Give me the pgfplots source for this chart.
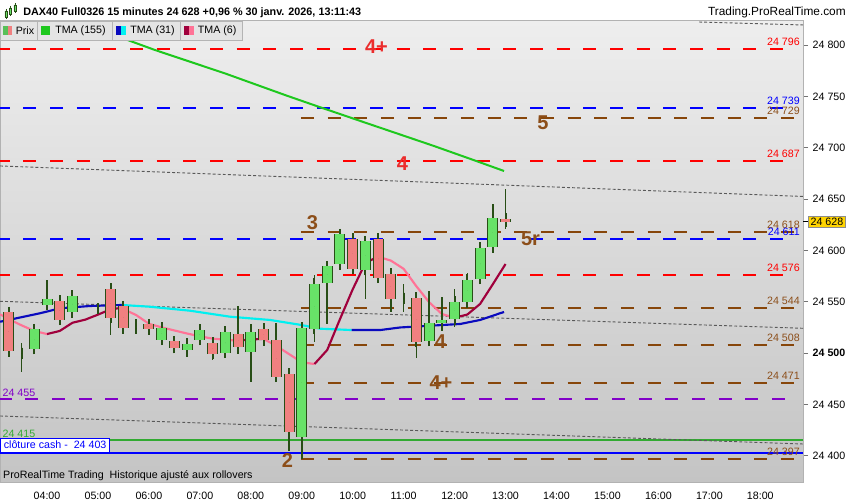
\documentclass[border=0pt]{standalone}
\usepackage{pgfplots}
\pgfplotsset{compat=1.18}
\usepackage{pgfplotstable}
\usepackage{fontspec}
\setmainfont{Liberation Sans}

\definecolor{bgtop}{RGB}{238,238,238}
\definecolor{bgbot}{RGB}{196,196,196}
\definecolor{upc}{RGB}{104,226,104}
\definecolor{dnc}{RGB}{240,128,128}
\definecolor{wick}{RGB}{40,78,22}
\definecolor{ma155}{RGB}{30,200,30}
\definecolor{ma31a}{RGB}{10,10,190}
\definecolor{ma31b}{RGB}{0,240,240}
\definecolor{ma6a}{RGB}{160,0,60}
\definecolor{ma6b}{RGB}{255,115,150}
\definecolor{lvred}{RGB}{255,0,0}
\definecolor{lvblue}{RGB}{0,0,255}
\definecolor{lvbrown}{RGB}{135,70,10}
\definecolor{lvpurple}{RGB}{130,0,200}
\definecolor{lvgreen}{RGB}{50,170,50}
\definecolor{lblred}{RGB}{235,45,45}
\definecolor{lblbrown}{RGB}{140,78,25}
\definecolor{legbg}{RGB}{228,228,228}
\definecolor{legbd}{RGB}{180,180,180}
\definecolor{gold}{RGB}{255,212,0}

\newcommand{\tf}{\fontsize{8}{9.6}\selectfont}
\newcommand{\bigf}{\fontsize{15}{18}\selectfont\bfseries}

% 15 minute candles: time (hours), open, high, low, close
\pgfplotstableread{
t o h l c
3.25 24539.6 24539.6 24501.6 24501.6
3.5 24500 24510 24482 24500
3.75 24504 24523 24502 24523
4.0 24547 24571 24547 24553
4.25 24551 24551 24531 24532.5
4.5 24539.5 24557 24539.5 24556
5.0 24543 24543 24543 24543
5.25 24562.6 24563 24518 24534.4
5.5 24545.5 24546 24524 24524
5.75 24524.3 24533 24521 24524.3
6.0 24528 24529 24523 24523
6.25 24513 24528.6 24513 24524.8
6.5 24511.3 24517 24505 24505
6.75 24503.2 24512 24496 24509
7.0 24513 24522.7 24513 24522.7
7.25 24510 24510 24492.8 24499.3
7.5 24500.3 24520.8 24497 24520.8
7.75 24518.8 24545.4 24499.3 24505.8
8.0 24501.3 24528.6 24471.7 24520.8
8.25 24523.7 24523.7 24507.4 24512.3
8.5 24513 24529.6 24472.7 24477
8.75 24479.8 24479.8 24405 24423
9.0 24418 24524.7 24397 24524.7
9.25 24523.7 24576 24510.6 24567.5
9.5 24568 24584.4 24528.6 24584.4
9.75 24586.6 24615.6 24581.5 24615.6
10.0 24611.4 24615.6 24582.2 24582.2
10.25 24581 24611 24552.2 24608.8
10.5 24611.4 24613 24569 24573.4
10.75 24577.3 24577.3 24539.6 24553
11.0 24553.6 24567.5 24540 24553.6
11.25 24554 24556 24495.4 24511
11.5 24512 24560 24512 24529
11.75 24529.6 24555 24521.3 24532.5
12.0 24533 24562.6 24525 24550
12.25 24549.6 24578.4 24548 24571.4
12.5 24572.4 24604.6 24567.5 24602.6
12.75 24603.2 24644.8 24598.3 24631.9
13.0 24631 24659.5 24620.5 24628
}\candles

\pgfplotsset{
  lvl/.style={line width=1.6pt, dash pattern=on 9.75pt off 10.25pt},
  chan/.style={line width=0.7pt, black!65, dash pattern=on 2.2pt off 1.6pt},
  nomark/.style={only marks, mark=*, mark size=0pt, mark options={draw=none, fill=none}},
}
\tikzset{lvlab/.style={anchor=south east, inner sep=0pt, font=\tf, yshift=2.2pt}}

\begin{document}
\begin{tikzpicture}
\path[use as bounding box, fill=white] (0,0) rectangle (637.5pt,375pt);
\begin{axis}[
  at={(0pt,13.5pt)}, anchor=south west,
  scale only axis, width=602.25pt, height=346.5pt,
  xmin=3.0775, xmax=18.838, ymin=24374.4, ymax=24824.35,
  clip=false,
  axis background/.style={shade, top color=bgtop, bottom color=bgbot},
  axis line style={draw=black!30},
  xtick={4,5,...,18},
  xticklabels={04:00,05:00,06:00,07:00,08:00,09:00,10:00,11:00,12:00,13:00,14:00,15:00,16:00,17:00,18:00},
  ytick={24400,24450,24500,24550,24600,24650,24700,24750,24800},
  yticklabels={24 400,24 450,\textbf{24 500},24 550,24 600,24 650,24 700,24 750,24 800},
  xtick pos=bottom, ytick pos=right, yticklabel pos=right,
  tick align=outside, major tick length=3.75pt,
  tick style={black!55, thin},
  xtick style={draw=none},
  tick label style={font=\tf, text=black},
  /pgf/number format/assume math mode=true,
]

% horizontal levels
\addplot[lvl, lvred, dash phase=2.5pt] coordinates {(3.0775,24796) (18.642,24796)};
\addplot[lvl, lvblue, dash phase=2.5pt] coordinates {(3.0775,24739) (18.642,24739)};
\addplot[lvl, lvbrown] coordinates {(8.985,24729) (18.838,24729)};
\addplot[lvl, lvred, dash phase=2.5pt] coordinates {(3.0775,24687) (18.642,24687)};
\addplot[lvl, lvbrown] coordinates {(8.985,24618) (18.838,24618)};
\addplot[lvl, lvblue, dash phase=2.5pt] coordinates {(3.0775,24611) (18.642,24611)};
\addplot[lvl, lvred, dash phase=2.5pt] coordinates {(3.0775,24576) (18.642,24576)};
\addplot[lvl, lvbrown] coordinates {(8.985,24544) (18.838,24544)};
\addplot[lvl, lvbrown] coordinates {(8.985,24508) (18.838,24508)};
\addplot[lvl, lvbrown] coordinates {(8.985,24471) (18.838,24471)};
\addplot[lvl, lvpurple, line width=1.4pt, dash phase=1pt] coordinates {(3.0775,24455) (18.642,24455)};
\addplot[line width=1.5pt, lvgreen] coordinates {(3.0775,24415) (18.838,24415)};
\addplot[line width=1.5pt, lvblue] coordinates {(3.0775,24403) (18.838,24403)};
\addplot[lvl, lvbrown] coordinates {(8.985,24397) (18.838,24397)};

% channel lines
\addplot[chan] coordinates {(16.8,24822.4) (18.838,24819.5)};
\addplot[chan] coordinates {(3.0775,24682.2) (18.838,24652.5)};
\addplot[chan] coordinates {(3.0775,24550.4) (18.838,24524.1)};
\addplot[chan] coordinates {(3.0775,24438.7) (18.838,24411.4)};

% TMA 155
\addplot[ma155, line width=1.5pt] coordinates {(5.2,24813) (5.53,24805.8) (6.12,24795.1) (7.49,24772.4) (8.71,24750.6) (9.29,24740.6) (10.28,24723.8) (11.58,24701.9) (12.37,24688.0) (12.97,24677.3)};

% TMA 31
\addplot[ma31a, line width=1.6pt] coordinates {(3.08,24530.5) (3.86,24538.7) (4.26,24543.6) (4.84,24545.8) (5.47,24546.8)};
\addplot[ma31b, line width=1.6pt] coordinates {(5.47,24546.8) (6.02,24545.1) (6.81,24541.2) (7.59,24535.4) (8.38,24532.2) (8.97,24527.5) (9.36,24523.7) (9.98,24522.4)};
\addplot[ma31a, line width=1.6pt] coordinates {(9.98,24522.4) (10.54,24522.4) (10.93,24524.9) (11.52,24526.6) (12.11,24528.3) (12.50,24532.2) (12.89,24538.7) (12.97,24540.0)};

% TMA 6
\addplot[ma6b, line width=1.6pt] coordinates {(3.08,24537.7) (3.25,24533) (3.5,24527) (3.75,24521.5) (4.0,24518.5)};
\addplot[ma6a, line width=1.6pt] coordinates {(4.0,24518.5) (4.25,24521.5) (4.5,24529.5) (4.75,24532.5) (5.0,24537.4) (5.25,24542.6) (5.4,24543.6)};
\addplot[ma6b, line width=1.6pt] coordinates {(5.4,24543.6) (5.5,24542.8) (5.75,24537) (6.0,24528.5) (6.25,24525) (6.5,24522) (6.75,24519) (7.0,24516.3) (7.25,24514) (7.5,24513) (7.75,24512)};
\addplot[ma6a, line width=1.6pt] coordinates {(7.75,24512) (8.0,24513.2) (8.25,24513.8)};
\addplot[ma6b, line width=1.6pt] coordinates {(8.25,24513.8) (8.5,24507) (8.75,24499) (9.0,24491) (9.25,24489.3)};
\addplot[ma6a, line width=1.6pt] coordinates {(9.25,24489.3) (9.5,24503) (9.75,24533) (10.0,24562) (10.25,24588) (10.5,24593.8)};
\addplot[ma6b, line width=1.6pt] coordinates {(10.5,24593.8) (10.75,24590) (11.0,24582) (11.25,24565) (11.5,24549.5) (11.75,24538) (12.0,24534.4)};
\addplot[ma6a, line width=1.6pt] coordinates {(12.0,24534.4) (12.25,24537.5) (12.5,24547.8) (12.75,24567) (13.0,24586.7)};

% candles: wicks, outline, bodies
\addplot[nomark, error bars/.cd, y dir=both, y explicit, error mark=none,
  error bar style={line width=1.2pt, draw=wick}]
  table[x=t, y expr={0.5*(\thisrow{h}+\thisrow{l})}, y error expr={0.5*(\thisrow{h}-\thisrow{l})}] {\candles};
\addplot[nomark, error bars/.cd, y dir=both, y explicit, error mark=-,
  error mark options={draw=wick, line width=1.5pt, mark size=4.125pt},
  error bar style={line width=8.25pt, draw=wick}]
  table[x=t, y expr={0.5*(\thisrow{o}+\thisrow{c})}, y error expr={0.5*abs(\thisrow{c}-\thisrow{o})}] {\candles};
\addplot[nomark, error bars/.cd, y dir=both, y explicit, error mark=none,
  error bar style={line width=6.75pt, draw=upc}]
  table[x=t, y expr={0.5*(\thisrow{o}+\thisrow{c})}, y error expr={0.5*max(\thisrow{c}-\thisrow{o},0)}] {\candles};
\addplot[nomark, error bars/.cd, y dir=both, y explicit, error mark=none,
  error bar style={line width=6.75pt, draw=dnc}]
  table[x=t, y expr={0.5*(\thisrow{o}+\thisrow{c})}, y error expr={0.5*max(\thisrow{o}-\thisrow{c},0)}] {\candles};

% level labels on the right
\node[lvlab, text=lvred] at (axis cs:18.779,24796) {24 796};
\node[lvlab, text=lvblue] at (axis cs:18.779,24739) {24 739};
\node[lvlab, text=lblbrown] at (axis cs:18.779,24729) {24 729};
\node[lvlab, text=lvred] at (axis cs:18.779,24687) {24 687};
\node[lvlab, text=lblbrown] at (axis cs:18.779,24618) {24 618};
\node[lvlab, text=lvblue] at (axis cs:18.779,24611) {24 611};
\node[lvlab, text=lvred] at (axis cs:18.779,24576) {24 576};
\node[lvlab, text=lblbrown] at (axis cs:18.779,24544) {24 544};
\node[lvlab, text=lblbrown] at (axis cs:18.779,24508) {24 508};
\node[lvlab, text=lblbrown] at (axis cs:18.779,24471) {24 471};
\node[lvlab, text=lblbrown] at (axis cs:18.779,24397) {24 397};

% level labels on the left
\node[anchor=south west, inner sep=0pt, font=\tf, text=lvpurple, yshift=1.5pt] at (axis cs:3.123,24455) {24 455};
\node[anchor=south west, inner sep=0pt, font=\tf, text=lvgreen, yshift=2.2pt] at (axis cs:3.123,24415) {24 415};
\node[anchor=south west, fill=white, draw=lvblue, line width=0.75pt, inner xsep=2.5pt, inner ysep=0pt,
  minimum height=10.5pt, font=\tf, text=lvblue] at (axis cs:3.0775,24403) {clôture cash -\ \ 24 403};

% wave labels
\node[font=\bigf, text=lblred, inner sep=0pt] at (axis cs:10.467,24798.5) {4+};
\node[font=\bigf, text=lblred, inner sep=0pt] at (axis cs:10.977,24684.1) {4};
\node[font=\bigf, text=lblbrown, inner sep=0pt] at (axis cs:13.735,24724.5) {5};
\node[font=\bigf, text=lblbrown, inner sep=0pt] at (axis cs:9.211,24627.1) {3};
\node[font=\bigf, text=lblbrown, inner sep=0pt] at (axis cs:13.49,24611.6) {5r};
\node[font=\bigf, text=lblbrown, inner sep=0pt] at (axis cs:11.723,24511.2) {4};
\node[font=\bigf, text=lblbrown, inner sep=0pt] at (axis cs:11.733,24471.3) {4+};
\node[font=\bigf, text=lblbrown, inner sep=0pt] at (axis cs:8.72,24395.5) {2};

% footer text and last price
\node[anchor=west, inner sep=0pt, font=\tf] at (axis cs:3.136,24380.3) {ProRealTime Trading\ \ Historique ajusté aux rollovers};
\draw[black, thin] (axis cs:18.838,24628) -- ++(3.75pt,0pt);
\node[anchor=west, fill=gold, draw=black!45, inner xsep=1.5pt, inner ysep=1.5pt, font=\tf, xshift=4pt] at (axis cs:18.838,24628) {24 628};
\end{axis}

% header and legend (pixel coordinates, origin top left)
\begin{scope}[x=0.75pt, y=-0.75pt, shift={(0pt,375pt)}]
\fill[white] (0,0) rectangle (850,20);
\draw[wick, line width=0.6pt] (6,9) -- (6,19) (10.5,6) -- (10.5,16) (15,3) -- (15,13);
\fill[upc, draw=wick, line width=0.4pt] (4.8,11) rectangle (7.2,17) (9.3,8) rectangle (11.7,14) (13.8,5) rectangle (16.2,11);
\node[anchor=west, inner sep=0pt, font=\fontsize{8.1}{9.7}\selectfont\bfseries] at (23,12.3) {DAX40 Full0326 15 minutes 24 628 +0,96 \% 30 janv. 2026, 13:11:43};
\node[anchor=east, inner sep=0pt, font=\fontsize{8.9}{10.6}\selectfont] at (846,12.3) {Trading.ProRealTime.com};
\draw[fill=legbg, draw=legbd, line width=0.6pt] (0.5,21) rectangle (37.5,40) (37.5,21) rectangle (112.5,40) (112.5,21) rectangle (180,40) (180,21) rectangle (242,40);
\fill[upc!85!black] (3,26) rectangle (7.5,35);
\fill[dnc] (7.5,26) rectangle (12,35);
\fill[ma155] (40.7,26) rectangle (50,35);
\fill[ma31a] (116,26) rectangle (121,35);
\fill[ma31b] (121,26) rectangle (125.7,35);
\fill[ma6a] (184,26) rectangle (189,35);
\fill[ma6b] (189,26) rectangle (194,35);
\node[anchor=west, inner sep=0pt, font=\tf] at (15.5,30.8) {Prix};
\node[anchor=west, inner sep=0pt, font=\tf] at (55,30.8) {TMA (155)};
\node[anchor=west, inner sep=0pt, font=\tf] at (130,30.8) {TMA (31)};
\node[anchor=west, inner sep=0pt, font=\tf] at (197.7,30.8) {TMA (6)};
\end{scope}
\end{tikzpicture}
\end{document}
